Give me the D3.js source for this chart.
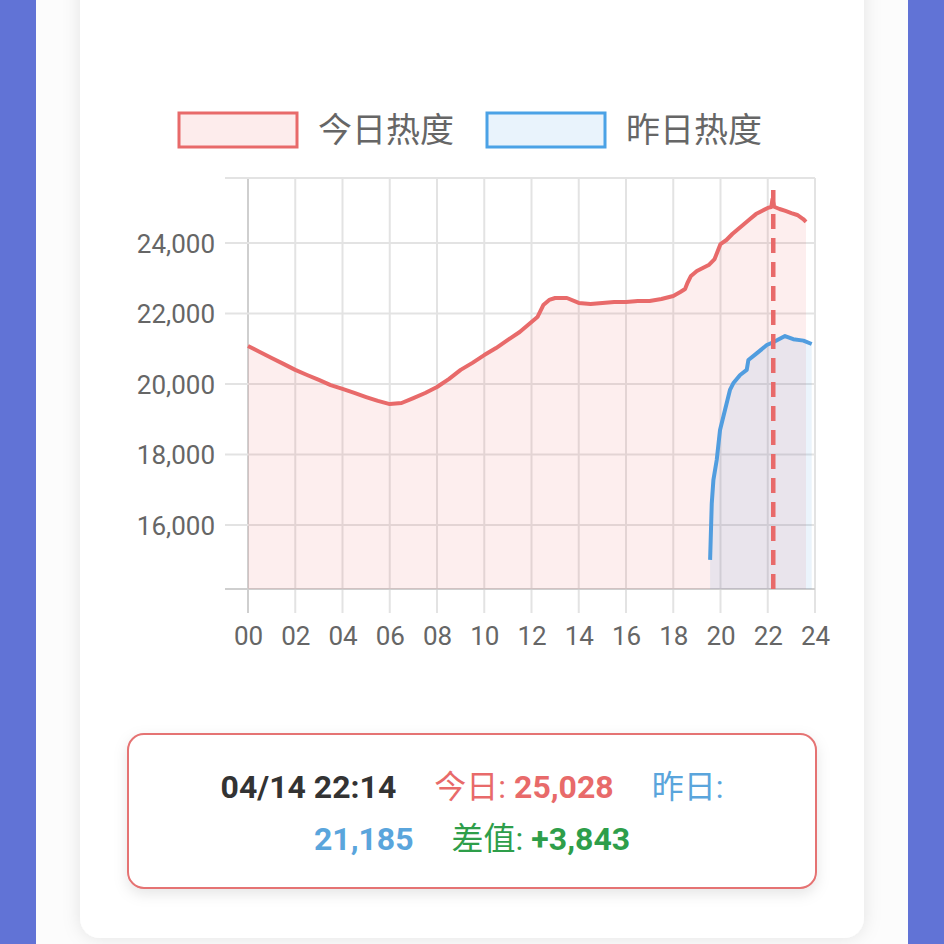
<!DOCTYPE html>
<html><head><meta charset="utf-8">
<script src="https://cdn.jsdelivr.net/npm/d3@7"></script>
<style>
body{margin:0;background:#fff}
svg{display:block}
text{font-family:Roboto,"Noto Sans CJK SC",sans-serif}
</style>
</head><body>
<svg id="c" width="944" height="944"></svg>
<script>
// ---------- data ----------
const legendLabels = ["今日热度", "昨日热度"];
const xTickHours = [0,2,4,6,8,10,12,14,16,18,20,22,24];
const xTickLabels = ["00","02","04","06","08","10","12","14","16","18","20","22","24"];
const yTickValues = [16000,18000,20000,22000,24000];

const todayHours = [0,0.5,1,1.5,2,2.5,3,3.5,4,4.5,5,5.5,6,6.5,7,7.5,8,8.5,9,9.5,10,10.5,11,11.5,12,12.25,12.5,12.75,13,13.5,14,14.5,15,15.5,16,16.5,17,17.5,18,18.3,18.5,18.6,18.75,19,19.5,19.75,20,20.25,20.5,20.75,21,21.25,21.5,21.75,22,22.15,22.2,22.27,22.5,22.75,23,23.25,23.5,23.62];
const todayValues = [21080,20910,20740,20570,20400,20255,20115,19970,19860,19745,19630,19520,19430,19460,19600,19745,19915,20140,20400,20600,20820,21020,21250,21475,21760,21900,22240,22385,22440,22440,22300,22270,22300,22325,22325,22355,22355,22410,22495,22610,22695,22865,23065,23205,23375,23545,23970,24085,24255,24400,24540,24680,24820,24910,24995,25020,25250,25028,24965,24910,24850,24795,24680,24600];

const yesterdayHours = [19.56,19.63,19.70,19.84,19.98,20.19,20.40,20.54,20.83,21.11,21.18,21.53,21.96,22.23,22.73,23.08,23.51,23.86];
const yesterdayValues = [15010,16615,17280,17845,18695,19260,19830,20020,20255,20400,20680,20870,21105,21185,21360,21270,21230,21135];

const markerHour = 22.233;
const infoTime = "04/14 22:14";
const infoToday = "25,028";
const infoYesterday = "21,185";
const infoDiff = "+3,843";

// ---------- colours ----------
const RED = "#e86a6a", RED_FILL = "rgba(235,85,85,0.1)";
const BLUE = "#519ddf", BLUE_FILL = "rgba(60,150,230,0.1)";
const GREEN = "#2e9e4a";

const svg = d3.select("#c");
const defs = svg.append("defs");
const f = defs.append("filter").attr("id","sh").attr("x","-10%").attr("y","-10%").attr("width","120%").attr("height","120%");
f.append("feDropShadow").attr("dx",0).attr("dy",0).attr("stdDeviation",9).attr("flood-color","#000").attr("flood-opacity",0.10);
const f2 = defs.append("filter").attr("id","sh2").attr("x","-10%").attr("y","-20%").attr("width","120%").attr("height","150%");
f2.append("feDropShadow").attr("dx",0).attr("dy",5).attr("stdDeviation",7).attr("flood-color","#000").attr("flood-opacity",0.10);

// page background
svg.append("rect").attr("width",944).attr("height",944).attr("fill","#fcfcfc");
svg.append("rect").attr("x",0).attr("y",0).attr("width",36).attr("height",944).attr("fill","#6173d6");
svg.append("rect").attr("x",908).attr("y",0).attr("width",36).attr("height",944).attr("fill","#6173d6");
// card
svg.append("rect").attr("x",80).attr("y",-30).attr("width",784).attr("height",968).attr("rx",20)
  .attr("fill","#fff").attr("filter","url(#sh)");

// ---------- scales ----------
const x = d3.scaleLinear().domain([0,24]).range([248,815]);
const y = d3.scaleLinear().domain([14184,25844]).range([589,178]);
const yBottom = y.range()[0], yTop = y.range()[1];

// grid
const g = svg.append("g");
g.selectAll(".vg").data(xTickHours).join("line")
  .attr("x1",d=>x(d)).attr("x2",d=>x(d)).attr("y1",yTop).attr("y2",613)
  .attr("stroke",d=>d===0?"#cfcfcf":"#e3e3e3").attr("stroke-width",2);
g.selectAll(".hg").data([...yTickValues, ...y.domain()]).join("line")
  .attr("x1",225).attr("x2",x(24)).attr("y1",d=>y(d)).attr("y2",d=>y(d))
  .attr("stroke",d=>d===y.domain()[0]?"#cfcfcf":"#e3e3e3").attr("stroke-width",2);

// axes labels via d3 axes
const xAxis = d3.axisBottom(x).tickValues(xTickHours).tickFormat((d,i)=>xTickLabels[i]).tickSize(0).tickPadding(0);
svg.append("g").attr("transform",`translate(0,${yBottom})`).call(xAxis)
  .call(s=>s.select(".domain").remove())
  .call(s=>s.selectAll("text").attr("y",56).attr("dy",0).attr("font-size",26).attr("fill","#666"));
const yAxis = d3.axisLeft(y).tickValues(yTickValues).tickFormat(d3.format(",")).tickSize(0).tickPadding(0);
svg.append("g").attr("transform","translate(215,0)").call(yAxis)
  .call(s=>s.select(".domain").remove())
  .call(s=>s.selectAll("text").attr("x",0).attr("dy","0.36em").attr("font-size",26).attr("fill","#666"));

// areas and lines
const today = todayHours.map((h,i)=>[h,todayValues[i]]);
const yest = yesterdayHours.map((h,i)=>[h,yesterdayValues[i]]);
const area = d3.area().x(d=>x(d[0])).y0(yBottom).y1(d=>y(d[1]));
const line = d3.line().x(d=>x(d[0])).y(d=>y(d[1]));
svg.append("path").datum(today).attr("d",area).attr("fill",RED_FILL);
svg.append("path").datum(yest).attr("d",area).attr("fill",BLUE_FILL);
svg.append("path").datum(today).attr("d",line).attr("fill","none").attr("stroke",RED).attr("stroke-width",4).attr("stroke-linejoin","round");
svg.append("path").datum(yest).attr("d",line).attr("fill","none").attr("stroke",BLUE).attr("stroke-width",4).attr("stroke-linejoin","round");

// marker line
svg.append("line").attr("x1",x(markerHour)).attr("x2",x(markerHour)).attr("y1",190).attr("y2",yBottom)
  .attr("stroke",RED).attr("stroke-width",4.5).attr("stroke-dasharray","15 9");

// legend
const leg = [{label:legendLabels[0],stroke:RED,fill:"#fdecec",x:179},{label:legendLabels[1],stroke:"#4ba2e6",fill:"#e9f3fc",x:487}];
const lg = svg.append("g").selectAll("g").data(leg).join("g").attr("transform",d=>`translate(${d.x},113)`);
lg.append("rect").attr("width",118).attr("height",34).attr("fill",d=>d.fill).attr("stroke",d=>d.stroke).attr("stroke-width",3);
lg.append("text").attr("x",139).attr("y",17).attr("dy","0.36em").attr("font-size",34).attr("fill","#666").text(d=>d.label);

// info box
svg.append("rect").attr("x",128).attr("y",734).attr("width",688).attr("height",154).attr("rx",16)
  .attr("fill","#fff").attr("stroke","#e57373").attr("stroke-width",2).attr("filter","url(#sh2)");
const t1 = svg.append("text").attr("x",472).attr("y",798).attr("text-anchor","middle").attr("font-size",32);
t1.append("tspan").attr("font-weight","bold").attr("fill","#333").text(infoTime);
t1.append("tspan").attr("dx",38).attr("fill",RED).text("今日:");
t1.append("tspan").attr("font-weight","bold").attr("fill",RED).attr("dx",8).text(infoToday);
t1.append("tspan").attr("dx",38).attr("fill","#5aa5dc").text("昨日:");
const t2 = svg.append("text").attr("x",472).attr("y",850).attr("text-anchor","middle").attr("font-size",32);
t2.append("tspan").attr("font-weight","bold").attr("fill","#5aa5dc").text(infoYesterday);
t2.append("tspan").attr("dx",38).attr("fill",GREEN).text("差值:");
t2.append("tspan").attr("font-weight","bold").attr("fill",GREEN).attr("dx",8).text(infoDiff);
</script>
</body></html>
